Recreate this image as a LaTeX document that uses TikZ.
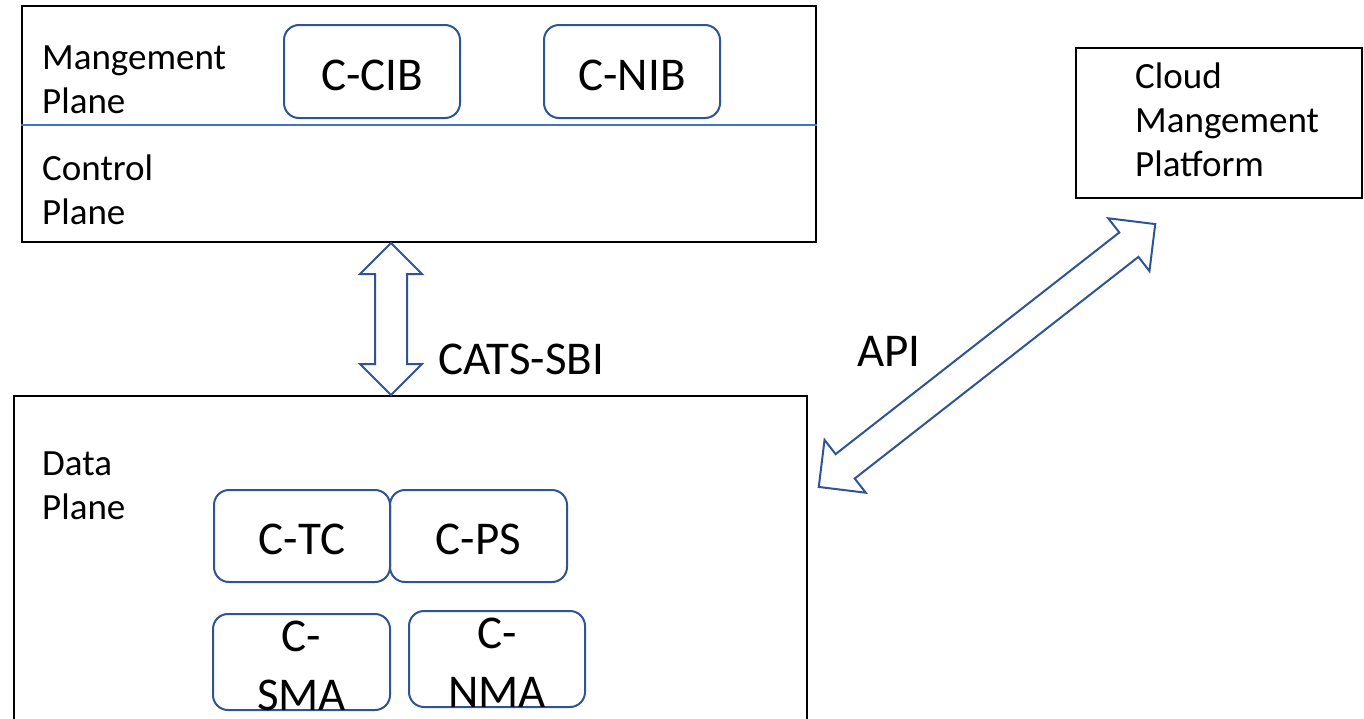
\documentclass[tikz,border=0pt]{standalone}
\usepackage{fontspec}
\setmainfont{Carlito}
\usepackage{xcolor}
\usepackage{tikz}
\usetikzlibrary{shapes.arrows, positioning}

\definecolor{boxblue}{RGB}{47,84,150}
\definecolor{lineblue}{RGB}{68,114,196}

\begin{document}
\begin{tikzpicture}[
  x=1pt, y=-1pt,
  plane/.style    = {rectangle, draw=black, line width=2.2pt, inner sep=0pt},
  tag/.style      = {anchor=base west, align=left, inner sep=0pt,
                     font=\fontsize{37}{44}\selectfont},
  unit/.style     = {rectangle, rounded corners=15pt, draw=boxblue, line width=2pt,
                     minimum width=176pt, minimum height=93pt, inner sep=0pt,
                     text height=38pt, align=center,
                     font=\fontsize{47}{59}\selectfont},
  unit2/.style    = {unit, text height=96pt, text depth=0pt},
  iface/.style    = {anchor=base west, inner sep=0pt, font=\fontsize{47}{57}\selectfont},
  dblarrow/.style = {double arrow, draw=boxblue, line width=2pt, fill=white,
                     inner xsep=0pt, double arrow tip angle=90}
]
\path[use as bounding box, clip] (0,0) rectangle (1364,718);

% ---------- management / control plane ----------
\node[plane, minimum width=794pt, minimum height=236pt] (ctrl) at (419,124) {};
\draw[lineblue, line width=1.3pt] (ctrl.west |- 0,125) -- (ctrl.east |- 0,125);
\node[tag] (mgmt) at (42,113) {Mangement\\Plane};
\node[tag] (ctl)  at (42,224) {Control\\Plane};

\node[unit] (ccib) at (372,71.5) {C-CIB};
\node[unit, right=82pt of ccib] (cnib) {C-NIB};

% ---------- data plane ----------
\node[plane, minimum width=793pt, minimum height=344pt] (data) at (410.5,568) {};
\node[tag] (dpl) at (42,519) {Data\\Plane};

\node[unit, minimum height=92pt] (ctc) at (302,536) {C-TC};
\node[unit, minimum height=92pt, minimum width=177pt, right=-2pt of ctc] (cps) {C-PS};
\node[unit2, minimum height=96pt, minimum width=177pt] (csma) at (301.5,662) {C-\\SMA};
\node[unit2, minimum height=94pt] (cnma) at (497,659) {C-\\NMA};

% ---------- cloud platform ----------
\node[plane, line width=2pt, minimum width=286pt, minimum height=150pt] (cloud) at (1219,123) {};
\node[tag] (cmp) at (1135,176) {Cloud\\Mangement\\Platform};

% ---------- interfaces ----------
\node[dblarrow, rotate=90, minimum height=152pt, inner ysep=15pt,
      double arrow head extend=15pt] (sbi) at (391,319) {};
\node[iface] (sbilbl) at (438,374) {CATS-SBI};

\node[dblarrow, rotate=38, minimum height=427pt, inner ysep=14.5pt,
      double arrow head extend=18pt] (api) at (987,355.5) {};
\node[iface] (apilbl) at (857,366) {API};

\end{tikzpicture}
\end{document}
